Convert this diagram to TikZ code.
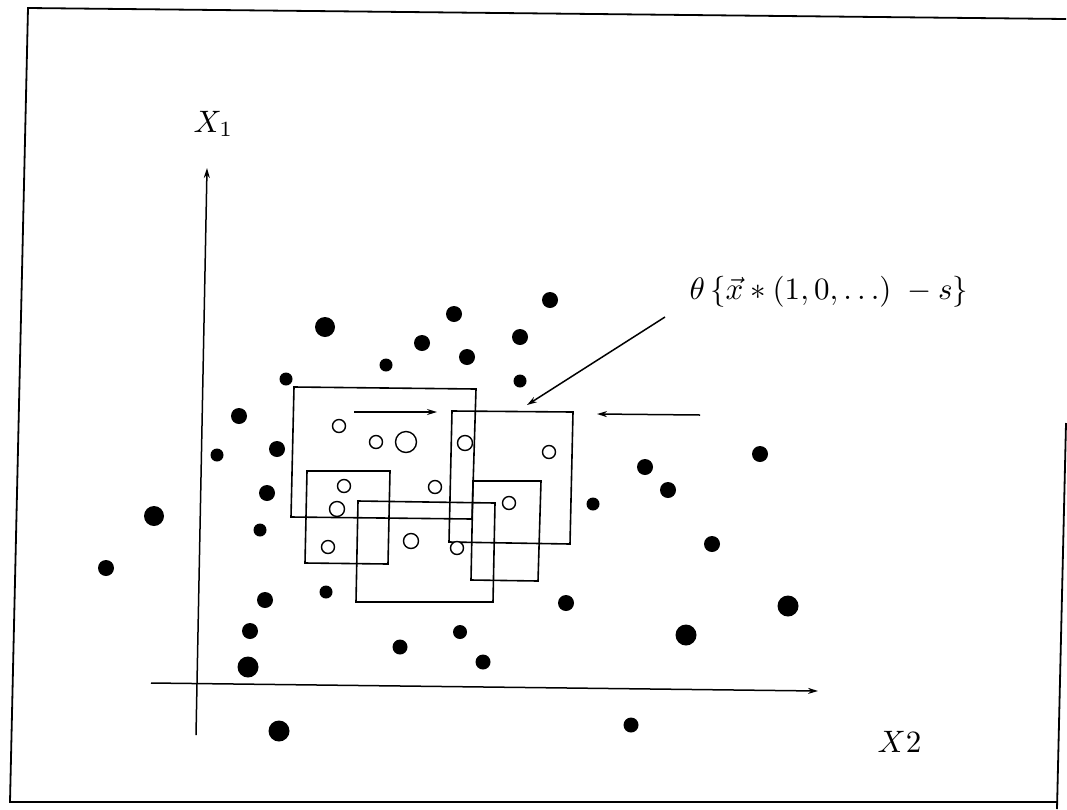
\documentclass[tikz,border=0pt]{standalone}
\usetikzlibrary{arrows.meta}
\begin{document}
\begin{tikzpicture}[x=1pt,y=-1pt,
  frameline/.style={line width=1.8pt},
  boxline/.style={line width=1.6pt},
  axisline/.style={line width=1.5pt,-{Stealth[length=10pt,width=6pt]}},
  arrline/.style={line width=1.5pt,-{Stealth[length=10pt,width=6pt]}},
  fdot/.style={fill=black},
  odot/.style={draw=black,line width=1.4pt,fill=white},
  lbl/.style={inner sep=0pt,anchor=base west,scale=3.1}]
\useasboundingbox (0,0) rectangle (1067,809);
% frame
\draw[frameline] (1066,19) -- (28,8) -- (10,802) -- (1057,802);
\draw[frameline] (1066,423) -- (1057,809);
% axes
\coordinate (ybot) at (196,735);
\coordinate (ytop) at (207,168);
\coordinate (xl) at (151,683);
\coordinate (xr) at (818,691);
\draw[axisline] (ybot) -- (ytop);
\draw[axisline] (xl) -- (xr);
\node[lbl] (x1) at (193,132) {$X_1$};
\node[lbl] (x2) at (877,752) {$X2$};
\node[lbl] (form) at (689,299) {$\theta\,\{\vec{x} * (1,0,\ldots)\; - s\}$};
% boxes
\draw[boxline] (294,387) -- (476,389) -- (472,519) -- (291,517) -- cycle;
\draw[boxline] (307,471) -- (390,471) -- (388,564) -- (305,563) -- cycle;
\draw[boxline] (358,501) -- (495,503) -- (493,602) -- (356,602) -- cycle;
\draw[boxline] (452,411) -- (573,412) -- (570,544) -- (449,542) -- cycle;
\draw[boxline] (473,481) -- (541,481) -- (538,581) -- (471,580) -- cycle;
% arrows
\coordinate (a1s) at (354,412);
\coordinate (a1e) at (437,412);
\draw[arrline] (a1s) -- (a1e);
\coordinate (a2s) at (700,415);
\coordinate (a2e) at (597,414);
\draw[arrline] (a2s) -- (a2e);
\coordinate (a3s) at (665,317);
\coordinate (a3e) at (527,405);
\draw[arrline] (a3s) -- (a3e);
% filled dots
\foreach \x/\y/\r in {325/327/10, 454/314/8, 550/300/8, 422/343/8, 520/337/8,
  467/357/8, 386/365/6.5, 286/379/6.5, 520/381/6.5, 239/416/8, 277/449/8,
  217/455/6.5, 267/493/8, 154/516/10, 260/530/6.5, 106/568/8, 645/467/8,
  668/490/8, 760/454/8, 593/504/6.5, 712/544/8, 265/600/8, 326/592/6.5,
  566/603/8, 788/606/10.5, 250/631/8, 460/632/7, 400/647/7.5, 686/635/10.5,
  483/662/7.5, 248/667/10.5, 279/731/10.5, 631/725/7.5}
  \fill[fdot] (\x,\y) circle (\r pt);
% open dots
\foreach \x/\y/\r in {339/426/6.5, 376/442/6.5, 406/442/10.5, 465/443/7.5,
  549/452/6.5, 344/486/6.5, 435/487/6.5, 337/509/7.5, 509/503/6.5,
  328/547/6.5, 411/541/7.5, 457/548/6.5}
  \draw[odot] (\x,\y) circle (\r pt);
\end{tikzpicture}
\end{document}
